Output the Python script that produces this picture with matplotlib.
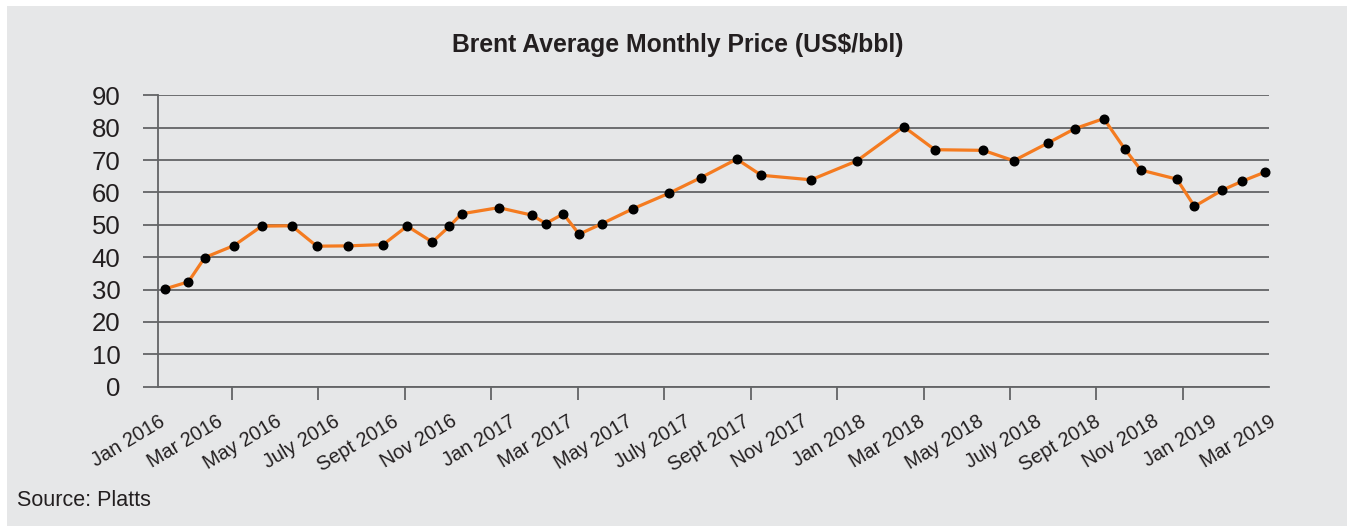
import numpy as np
import matplotlib
matplotlib.use('Agg')
import matplotlib.pyplot as plt
from matplotlib.patches import Rectangle

# Brent monthly averages, x in months since Jan 2016
months = [0.24, 1.04, 1.60, 2.60, 3.55, 4.57, 5.43, 6.50, 7.70, 8.52,
          9.38, 9.96, 10.38, 11.65, 12.78, 13.26, 13.86, 14.40, 15.17, 16.25,
          17.46, 18.57, 19.79, 20.63, 22.33, 23.89, 25.50, 26.56, 28.22, 29.26,
          30.44, 31.35, 32.34, 33.06, 33.61, 34.84, 35.44, 36.39, 37.08, 37.86]
price = [30.2, 32.4, 39.9, 43.6, 49.6, 49.7, 43.4, 43.5, 43.9, 49.6,
         44.7, 49.5, 53.4, 55.3, 53.0, 50.4, 53.4, 47.1, 50.3, 55.0,
         59.7, 64.6, 70.3, 65.3, 63.9, 69.7, 80.3, 73.2, 73.0, 69.8,
         75.3, 79.7, 82.8, 73.4, 66.9, 64.1, 55.7, 60.7, 63.5, 66.3]

tick_labels = ['Jan 2016', 'Mar 2016', 'May 2016', 'July 2016', 'Sept 2016',
               'Nov 2016', 'Jan 2017', 'Mar 2017', 'May 2017', 'July 2017',
               'Sept 2017', 'Nov 2017', 'Jan 2018', 'Mar 2018', 'May 2018',
               'July 2018', 'Sept 2018', 'Nov 2018', 'Jan 2019', 'Mar 2019']
y_ticks = list(range(0, 100, 10))

bg = '#E6E7E8'
grid_col = '#636466'

plt.rcParams['font.family'] = ['Liberation Sans', 'DejaVu Sans']

fig = plt.figure(figsize=(13.47, 5.26), dpi=100)
fig.patch.set_facecolor('white')
panel = Rectangle((7 / 1347, 0), 1 - 7 / 1347, 1 - 6 / 526,
                  transform=fig.transFigure, facecolor=bg,
                  edgecolor='none', zorder=-10)
fig.add_artist(panel)

ax = fig.add_axes([158 / 1347, 139.3 / 526, (1269.3 - 158) / 1347, (430.7 - 139.3) / 526])
ax.set_facecolor('none')

ax.plot(months, price, color='#F47B20', lw=2.3, zorder=3, clip_on=False)
ax.plot(months, price, 'o', color='black', ms=6.2, zorder=4, clip_on=False)

ax.set_xlim(0, 38)
ax.set_ylim(0, 90)

# horizontal gridlines, extended left as tick marks
ax.set_yticks(y_ticks)
ax.yaxis.grid(True, color=grid_col, lw=1.3)
ax.tick_params(axis='y', length=11, width=1.3, color=grid_col, pad=16,
               labelsize=18.5, labelcolor='#231F20')

# labels every two months, tick marks on a separate spacing
ax.set_xticks(np.arange(0, 39, 2))
ax.set_xticklabels(tick_labels, rotation=31, ha='right', va='top',
                   rotation_mode='anchor')
ax.tick_params(axis='x', which='major', length=0, pad=18, labelsize=14.3,
               labelcolor='#231F20')
minor = [0] + list(38 - 2.956 * np.arange(13))
ax.set_xticks(minor, minor=True)
ax.tick_params(axis='x', which='minor', length=9, width=1.3, color=grid_col)

for s in ['top', 'right']:
    ax.spines[s].set_visible(False)
for s in ['left', 'bottom']:
    ax.spines[s].set_color(grid_col)
    ax.spines[s].set_linewidth(1.3)

fig.text(0.503, 1 - 45 / 526, 'Brent Average Monthly Price (US$/bbl)',
         ha='center', va='center', fontsize=17.8, fontweight='bold',
         color='#231F20')
fig.text(17 / 1347, 1 - 500 / 526, 'Source: Platts', ha='left', va='center',
         fontsize=15.5, color='#231F20')

fig.savefig('out.png', dpi=100, facecolor=fig.get_facecolor())
